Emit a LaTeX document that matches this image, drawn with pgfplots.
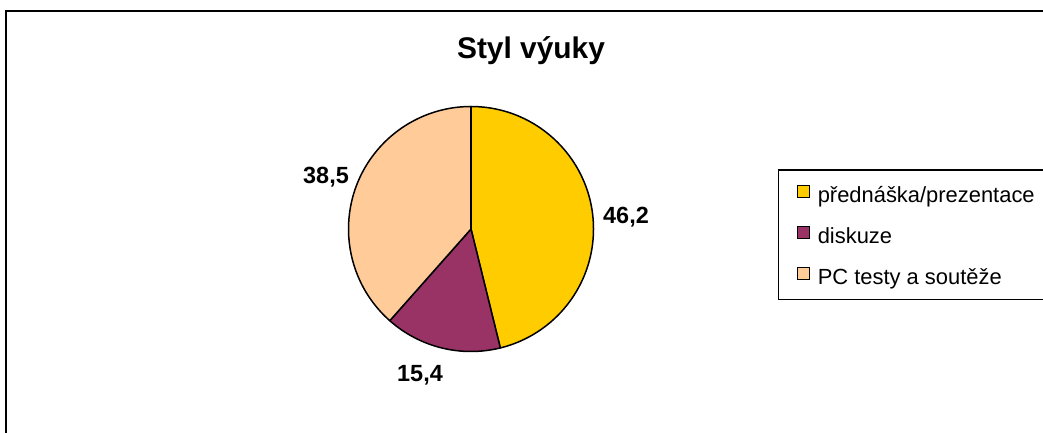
\documentclass[border=0pt]{standalone}
\usepackage{pgfplots}
\pgfplotsset{compat=1.18}
\usepackage{pgfplotstable}
\usepackage{fontspec}
\setmainfont{Liberation Sans}
\definecolor{cYellow}{HTML}{FFCC00}
\definecolor{cPurple}{HTML}{993366}
\definecolor{cPeach}{HTML}{FFCC99}

\pgfplotstableread{
value
46.2
15.4
38.5
}\piedata

\pgfplotstablegetelem{0}{value}\of\piedata \let\vA\pgfplotsretval
\pgfplotstablegetelem{1}{value}\of\piedata \let\vB\pgfplotsretval
\pgfplotstablegetelem{2}{value}\of\piedata \let\vC\pgfplotsretval
\pgfmathsetmacro\vSum{\vA+\vB+\vC}
\pgfmathsetmacro\aA{90}
\pgfmathsetmacro\aB{\aA-3.6*(\vA/\vSum*100)}
\pgfmathsetmacro\aC{\aB-3.6*(\vB/\vSum*100)}
\pgfmathsetmacro\aD{\aC-3.6*(\vC/\vSum*100)}

\def\cx{471}
\def\cy{203}
\def\R{122.5}

\begin{document}
\begin{tikzpicture}
\begin{axis}[
  x=1bp, y=1bp,
  xmin=0, xmax=1043, ymin=0, ymax=432,
  hide axis, clip=true,
  legend image code/.code={\draw[#1, line width=1.3bp] (0bp,0.3bp) rectangle (12.5bp,12.5bp);},
  legend cell align=left,
  legend style={
    at={(axis cs:796.5,247.5)}, anchor=north west,
    draw=none, fill=none, inner sep=0pt, outer sep=0pt,
    font=\fontsize{22}{26}\selectfont,
    row sep=18bp, column sep=7.5bp,
    nodes={inner sep=0pt, text height=15bp, text depth=5bp},
  },
]
\fill[white] (axis cs:0,0) rectangle (axis cs:1043,432);
\draw[line width=2.6bp] (axis cs:6,421) rectangle (axis cs:1100,-50);

% pie slices from data
\filldraw[fill=cYellow, draw=black, line width=1.5bp, line join=round]
  (axis cs:\cx,\cy) -- (axis cs:{\cx+\R*cos(\aA)},{\cy+\R*sin(\aA)})
  arc[start angle=\aA, end angle=\aB, radius=\R bp] -- cycle;
\filldraw[fill=cPurple, draw=black, line width=1.5bp, line join=round]
  (axis cs:\cx,\cy) -- (axis cs:{\cx+\R*cos(\aB)},{\cy+\R*sin(\aB)})
  arc[start angle=\aB, end angle=\aC, radius=\R bp] -- cycle;
\filldraw[fill=cPeach, draw=black, line width=1.5bp, line join=round]
  (axis cs:\cx,\cy) -- (axis cs:{\cx+\R*cos(\aC)},{\cy+\R*sin(\aC)})
  arc[start angle=\aC, end angle=\aD, radius=\R bp] -- cycle;
\draw[line width=2.2bp] (axis cs:\cx,\cy) -- (axis cs:\cx,{\cy+\R});

% title and data labels
\node[anchor=base, font=\fontsize{30}{36}\selectfont\bfseries] at (axis cs:531,373.7) {Styl výuky};
\node[anchor=base, font=\fontsize{23.5}{28}\selectfont\bfseries] at (axis cs:626,208.7) {46,2};
\node[anchor=base, font=\fontsize{23.5}{28}\selectfont\bfseries] at (axis cs:420,50.3) {15,4};
\node[anchor=base, font=\fontsize{23.5}{28}\selectfont\bfseries] at (axis cs:326,248.7) {38,5};

% legend frame
\draw[line width=1.5bp] (axis cs:778.5,262) rectangle (axis cs:1100,132.5);

\addlegendimage{fill=cYellow, draw=black}
\addlegendentry{přednáška/prezentace}
\addlegendimage{fill=cPurple, draw=black}
\addlegendentry{diskuze}
\addlegendimage{fill=cPeach, draw=black}
\addlegendentry{PC testy a soutěže}
\end{axis}
\end{tikzpicture}
\end{document}
